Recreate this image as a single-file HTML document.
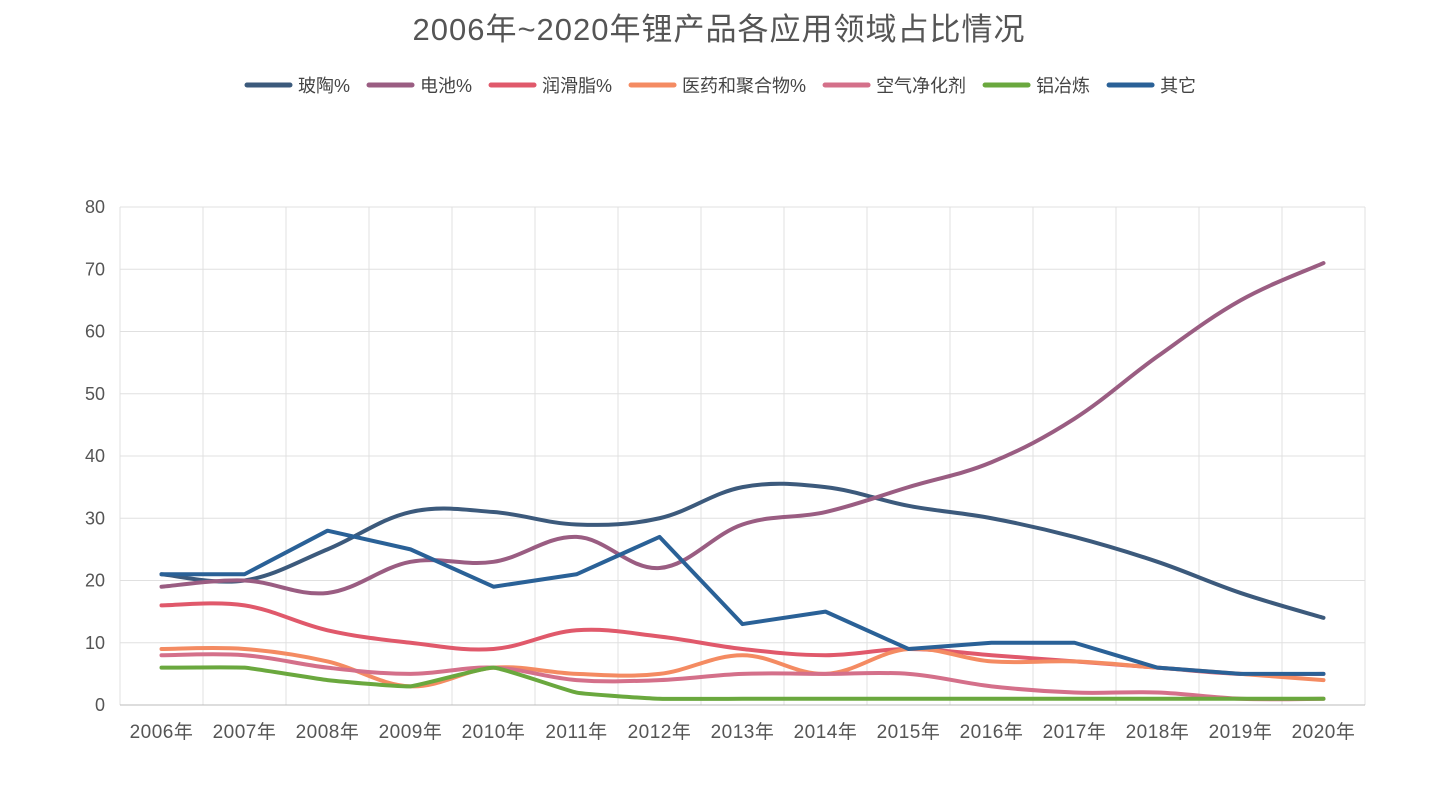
<!DOCTYPE html>
<html><head><meta charset="utf-8"><style>
body{margin:0;background:#fff;}
svg text{font-family:"Liberation Sans","Noto Sans CJK SC",sans-serif;}
</style></head><body>
<svg id="chart" width="1434" height="798"></svg>
<script>
const categories=["2006年","2007年","2008年","2009年","2010年","2011年","2012年","2013年","2014年","2015年","2016年","2017年","2018年","2019年","2020年"];
const seriesNames=["玻陶%","电池%","润滑脂%","医药和聚合物%","空气净化剂","铝冶炼","其它"];
const seriesColors=["#3c5a7c","#9a5d82","#e0596b","#f48b62","#d4708a","#6aa83e","#2a6197"];
const ceramics=[21,20,25,31,31,29,30,35,35,32,30,27,23,18,14];
const battery=[19,20,18,23,23,27,22,29,31,35,39,46,56,65,71];
const grease=[16,16,12,10,9,12,11,9,8,9,8,7,6,5,5];
const pharma=[9,9,7,3,6,5,5,8,5,9,7,7,6,5,4];
const airPurifier=[8,8,6,5,6,4,4,5,5,5,3,2,2,1,1];
const aluminum=[6,6,4,3,6,2,1,1,1,1,1,1,1,1,1];
const other=[21,21,28,25,19,21,27,13,15,9,10,10,6,5,5];
const yTicks=[0,10,20,30,40,50,60,70,80];
const seriesData=[ceramics,battery,grease,pharma,airPurifier,aluminum,other];
const smooth=[0.18,0.18,0.18,0.18,0.18,0.06,0];
const svgns="http://www.w3.org/2000/svg";
const svg=document.getElementById('chart');
const L=120,R=1365,T=207,B=705,yMax=80;
const bw=(R-L)/categories.length;
const x=i=>L+(i+0.5)*bw;
const y=v=>B-(v/yMax)*(B-T);
function mk(tag,attrs,parent){const e=document.createElementNS(svgns,tag);for(const k in attrs)e.setAttribute(k,attrs[k]);(parent||svg).appendChild(e);return e;}
let t=mk('text',{x:719,y:40,'text-anchor':'middle','font-size':31,fill:'#555','letter-spacing':1});t.textContent="2006年~2020年锂产品各应用领域占比情况";


for(const v of yTicks){const l=mk('line',{x1:L,x2:R,y1:y(v),y2:y(v),stroke:'#e0e0e0','stroke-width':1});


const tx=mk('text',{x:105,y:y(v)+6,'text-anchor':'end','font-size':18,fill:'#555'});tx.textContent=v;

}
for(let i=0;i<=categories.length;i++){const gx=L+i*bw;const l=mk('line',{x1:gx,x2:gx,y1:T,y2:B,stroke:'#e0e0e0','stroke-width':1});

}
const ax=mk('line',{x1:L,x2:R,y1:B,y2:B,stroke:'#bbb','stroke-width':1});


categories.forEach((c,i)=>{const tx=mk('text',{x:x(i),y:738,'text-anchor':'middle','font-size':19,fill:'#555','letter-spacing':0.5});tx.textContent=c;

});
function path(d,k){const p=d.map((v,i)=>[x(i),y(v)]);let s=`M${p[0][0]},${p[0][1]}`;
for(let i=0;i<p.length-1;i++){const p0=p[i-1]||p[i],p1=p[i],p2=p[i+1],p3=p[i+2]||p2;
s+=` C${p1[0]+(p2[0]-p0[0])*k},${p1[1]+(p2[1]-p0[1])*k} ${p2[0]-(p3[0]-p1[0])*k},${p2[1]-(p3[1]-p1[1])*k} ${p2[0]},${p2[1]}`;}return s;}
seriesData.forEach((d,si)=>{const p=mk('path',{d:path(d,smooth[si]),fill:'none',stroke:seriesColors[si],'stroke-width':4,'stroke-linejoin':'round','stroke-linecap':'round'});

});
const lg=mk('g',{});


let lx=247;
seriesNames.forEach((n,si)=>{const g=mk('g',{},lg);


mk('line',{x1:lx,x2:lx+43,y1:85,y2:85,stroke:seriesColors[si],'stroke-width':5,'stroke-linecap':'round'},g);
const tx=mk('text',{x:lx+51,y:92,'font-size':18,fill:'#444'},g);tx.textContent=n;
lx+=51+tx.getComputedTextLength()+19;});
</script>
</body></html>
